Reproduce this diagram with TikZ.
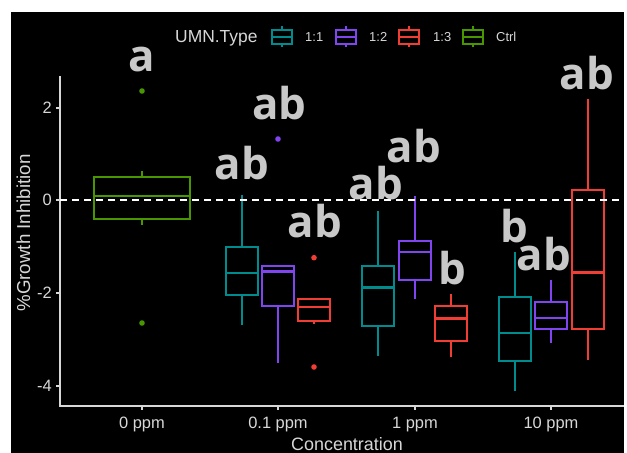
\documentclass[tikz,border=0pt]{standalone}
\usepackage{fontspec}
\setmainfont{Liberation Sans}
\newfontfamily\letterfont{Open Sans}
\definecolor{cteal}{RGB}{0,139,142}
\definecolor{cpurple}{RGB}{128,68,240}
\definecolor{cred}{RGB}{240,62,52}
\definecolor{cgreen}{RGB}{72,150,0}
\definecolor{axgray}{RGB}{215,215,215}
\definecolor{lettgray}{RGB}{200,200,200}
\tikzset{
  boxln/.style={line width=1.8bp},
  medln/.style={line width=2.6bp},
  axln/.style={draw=axgray,line width=1.4bp},
  ticklab/.style={text=axgray,font=\fontsize{16.5}{16.5}\selectfont,inner sep=0pt},
  lett/.style={text=lettgray,font=\letterfont\bfseries\fontsize{44}{44}\selectfont,anchor=base,inner sep=0pt},
  legtxt/.style={text=axgray,font=\fontsize{13}{13}\selectfont,anchor=base west,inner sep=0pt},
  outl/.style={fill=#1,draw=none}
}
\newcommand\bxp[8]{%
  \draw[boxln,#3] (#1,#4) -- (#1,#5) (#1,#7) -- (#1,#8);
  \draw[boxln,#3] ({#1-#2},#5) rectangle ({#1+#2},#7);
  \draw[medln,#3] ({#1-#2},#6) -- ({#1+#2},#6);
}
\newcommand\lkey[2]{%
  \draw[line width=1.5bp,#2] (#1,30) rectangle ({#1+20},44);
  \draw[line width=1.5bp,#2] (#1,37) -- ({#1+20},37);
  \draw[line width=1.5bp,#2] ({#1+10},26) -- ({#1+10},30) ({#1+10},44) -- ({#1+10},47);
}
\begin{document}
\begin{tikzpicture}[x=1bp,y=-1bp]
\useasboundingbox (0,0) rectangle (627,453);
\fill[white] (0,0) rectangle (627,453);
\fill[black] (11,12) rectangle (624,453);
% axes
\draw[axln] (60,76) -- (60,406) -- (624,406);
\foreach \yy in {108,200,293,386} \draw[axln] (56,\yy) -- (60,\yy);
\foreach \xx in {142,278,415,551} \draw[axln] (\xx,406) -- (\xx,410);
\node[ticklab,anchor=east] (y2) at (52,108) {2};
\node[ticklab,anchor=east] (y0) at (52,200) {0};
\node[ticklab,anchor=east] (ym2) at (52,293) {-2};
\node[ticklab,anchor=east] (ym4) at (52,386) {-4};
\node[ticklab,anchor=base] (x0) at (142,428) {0 ppm};
\node[ticklab,anchor=base] (x1) at (278,428) {0.1 ppm};
\node[ticklab,anchor=base] (x2) at (415,428) {1 ppm};
\node[ticklab,anchor=base] (x3) at (551,428) {10 ppm};
\node[text=axgray,font=\fontsize{18}{18}\selectfont,anchor=base,inner sep=0pt] (xt) at (347,450) {Concentration};
\node[text=axgray,font=\fontsize{18.8}{18.8}\selectfont,anchor=base,inner sep=0pt,rotate=90] (yt) at (30,233) {\%Growth Inhibition};
% boxes
\bxp{142}{48}{cgreen}{171}{177}{196}{219}{225}
\bxp{242}{16}{cteal}{195}{246.7}{273}{295}{325}
\bxp{278}{16}{cpurple}{265.7}{265.7}{271.7}{306}{363}
\bxp{314}{16}{cred}{297.7}{299}{307}{321}{324}
\bxp{378}{16}{cteal}{211}{265.7}{287.7}{326}{356}
\bxp{415}{16}{cpurple}{196}{241.3}{252}{280}{299}
\bxp{451}{16}{cred}{293.7}{305.7}{318.7}{341.3}{357}
\bxp{515}{16}{cteal}{251.7}{297}{333}{361}{390.7}
\bxp{551}{16}{cpurple}{280}{302.3}{318}{329.3}{342.7}
\bxp{588}{16}{cred}{99}{190}{272.3}{329.3}{360}
% outliers
\fill[outl=cgreen] (142,91) circle (2.8bp);
\fill[outl=cgreen] (142,323) circle (2.8bp);
\fill[outl=cpurple] (278,139) circle (2.8bp);
\fill[outl=cred] (314,257.7) circle (2.8bp);
\fill[outl=cred] (314,367) circle (2.8bp);
% zero line
\draw[white,line width=1.8bp,dash pattern=on 7bp off 5bp] (60,200) -- (624,200);
% letters
\node[lett] (la) at (142,72) {a};
\node[lett] (lb) at (242,180) {ab};
\node[lett] (lc) at (279.5,120) {ab};
\node[lett] (ld) at (315,238) {ab};
\node[lett] (le) at (376,200) {ab};
\node[lett] (lf) at (414,163) {ab};
\node[lett] (lg) at (452,285) {b};
\node[lett] (lh) at (514,243) {b};
\node[lett] (li) at (544,271) {ab};
\node[lett] (lj) at (587,90) {ab};
% legend
\node[text=axgray,font=\fontsize{17.5}{17.5}\selectfont,anchor=base west,inner sep=0pt] (lgt) at (175,43) {UMN.Type};
\lkey{272}{cteal}
\lkey{336}{cpurple}
\lkey{399}{cred}
\lkey{463}{cgreen}
\node[legtxt] (k1) at (305,42) {1:1};
\node[legtxt] (k2) at (369,42) {1:2};
\node[legtxt] (k3) at (433,42) {1:3};
\node[legtxt] (k4) at (496,42) {Ctrl};
\end{tikzpicture}
\end{document}
